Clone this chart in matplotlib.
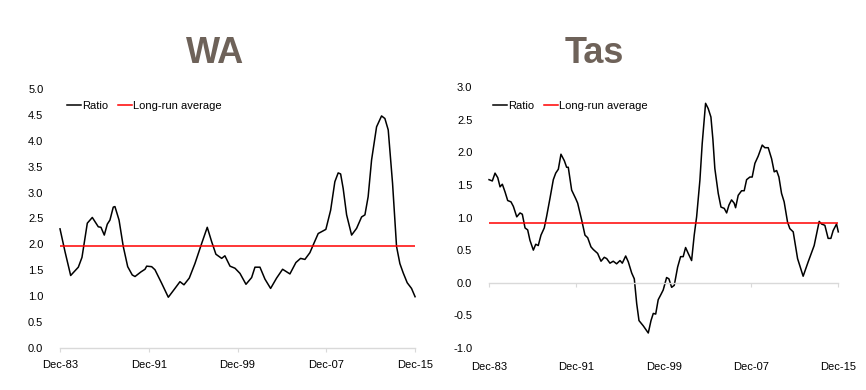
import matplotlib
matplotlib.use("Agg")
import matplotlib.pyplot as plt

# =====================================
# Data
# =====================================

wa_years = [
    1983.92, 1984.37, 1984.88, 1985.57, 1985.9, 1986.38, 1986.83, 1987.37,
    1987.61, 1987.91, 1988.18, 1988.42, 1988.72, 1988.87, 1989.24, 1989.62,
    1990.02, 1990.43, 1990.68, 1991.22, 1991.58, 1991.73, 1992.18, 1992.48,
    1993.08, 1993.68, 1994.28, 1994.73, 1995.09, 1995.57, 1996.08, 1996.69,
    1997.19, 1997.59, 1997.97, 1998.49, 1998.78, 1999.24, 1999.69, 2000.14,
    2000.68, 2001.19, 2001.49, 2001.94, 2002.39, 2002.9, 2003.44, 2003.98,
    2004.64, 2005.18, 2005.6, 2005.99, 2006.44, 2006.74, 2007.19, 2007.88,
    2008.31, 2008.69, 2008.99, 2009.21, 2009.44, 2009.75, 2010.2, 2010.65,
    2011.1, 2011.4, 2011.69, 2012.0, 2012.45, 2012.9, 2013.2, 2013.5,
    2013.89, 2014.25, 2014.55, 2014.85, 2015.21, 2015.6, 2015.92,
]
wa_ratio = [
    2.30, 1.86, 1.40, 1.56, 1.75, 2.41, 2.52, 2.34,
    2.33, 2.18, 2.39, 2.47, 2.72, 2.73, 2.47, 1.96,
    1.57, 1.41, 1.38, 1.47, 1.52, 1.58, 1.57, 1.51,
    1.25, 0.98, 1.15, 1.28, 1.22, 1.35, 1.63, 2.02,
    2.33, 2.05, 1.81, 1.73, 1.78, 1.58, 1.54, 1.44,
    1.23, 1.36, 1.56, 1.56, 1.33, 1.15, 1.35, 1.52,
    1.43, 1.65, 1.73, 1.71, 1.84, 1.99, 2.21, 2.29,
    2.66, 3.21, 3.38, 3.36, 3.08, 2.57, 2.18, 2.31,
    2.53, 2.57, 2.92, 3.63, 4.27, 4.48, 4.43, 4.21,
    3.18, 1.96, 1.63, 1.45, 1.26, 1.15, 0.99,
]
wa_average = 1.97

tas_years = [
    1983.92, 1984.22, 1984.47, 1984.72, 1984.93, 1985.14, 1985.39, 1985.63,
    1985.93, 1986.15, 1986.46, 1986.76, 1986.97, 1987.22, 1987.46, 1987.67,
    1987.98, 1988.2, 1988.43, 1988.68, 1988.98, 1989.2, 1989.5, 1989.81,
    1990.03, 1990.27, 1990.51, 1990.82, 1991.03, 1991.18, 1991.49, 1991.86,
    1992.04, 1992.41, 1992.71, 1992.96, 1993.26, 1993.47, 1993.87, 1994.18,
    1994.48, 1994.7, 1995.0, 1995.3, 1995.61, 1995.92, 1996.13, 1996.44,
    1996.68, 1996.99, 1997.23, 1997.45, 1997.66, 1998.05, 1998.51, 1998.76,
    1998.97, 1999.19, 1999.42, 1999.67, 1999.88, 2000.19, 2000.4, 2000.65,
    2000.89, 2001.2, 2001.47, 2001.71, 2001.93, 2002.17, 2002.48, 2002.72,
    2002.94, 2003.24, 2003.45, 2003.76, 2004.0, 2004.25, 2004.43, 2004.61,
    2004.92, 2005.17, 2005.47, 2005.69, 2005.9, 2006.14, 2006.38, 2006.51,
    2006.75, 2007.06, 2007.3, 2007.52, 2007.82, 2008.03, 2008.28, 2008.58,
    2008.95, 2009.19, 2009.5, 2009.81, 2010.05, 2010.27, 2010.48, 2010.72,
    2010.96, 2011.27, 2011.48, 2011.79, 2012.19, 2012.7, 2013.16, 2013.71,
    2014.17, 2014.39, 2014.69, 2014.99, 2015.24, 2015.45, 2015.76, 2015.92,
]
tas_ratio = [
    1.58, 1.56, 1.68, 1.61, 1.47, 1.51, 1.39, 1.26,
    1.24, 1.17, 1.01, 1.07, 1.05, 0.84, 0.81, 0.65,
    0.50, 0.59, 0.57, 0.73, 0.84, 1.02, 1.29, 1.58,
    1.68, 1.74, 1.97, 1.87, 1.77, 1.77, 1.42, 1.29,
    1.22, 0.96, 0.73, 0.69, 0.55, 0.51, 0.45, 0.33,
    0.39, 0.37, 0.30, 0.33, 0.29, 0.34, 0.30, 0.41,
    0.32, 0.15, 0.06, -0.32, -0.58, -0.66, -0.77, -0.58,
    -0.47, -0.48, -0.26, -0.18, -0.11, 0.08, 0.06, -0.07,
    -0.04, 0.24, 0.40, 0.40, 0.54, 0.45, 0.34, 0.73,
    1.01, 1.57, 2.13, 2.75, 2.67, 2.54, 2.20, 1.75,
    1.37, 1.16, 1.14, 1.07, 1.19, 1.27, 1.22, 1.15,
    1.34, 1.41, 1.41, 1.58, 1.62, 1.62, 1.83, 1.94,
    2.11, 2.07, 2.07, 1.90, 1.70, 1.72, 1.62, 1.37,
    1.24, 0.93, 0.83, 0.78, 0.37, 0.10, 0.32, 0.57,
    0.94, 0.90, 0.88, 0.68, 0.68, 0.80, 0.90, 0.78,
]
tas_average = 0.92

tick_years = [1983.92, 1991.92, 1999.92, 2007.92, 2015.92]
tick_labels = ["Dec-83", "Dec-91", "Dec-99", "Dec-07", "Dec-15"]

wa_yticks = [0.0, 0.5, 1.0, 1.5, 2.0, 2.5, 3.0, 3.5, 4.0, 4.5, 5.0]
tas_yticks = [-1.0, -0.5, 0.0, 0.5, 1.0, 1.5, 2.0, 2.5, 3.0]

# =====================================
# Style
# =====================================

plt.rcParams["font.family"] = ["Liberation Sans", "DejaVu Sans"]
TEXT_SIZE = 8
TITLE_COLOR = "#6e6259"
AXIS_GRAY = "#d9d9d9"
RED = "#ff0000"

fig = plt.figure(figsize=(8.66, 3.9), dpi=100)

ax_wa = fig.add_axes([0.0693, 0.1077, 0.41, 0.6641])
ax_tas = fig.add_axes([0.5647, 0.1077, 0.4033, 0.6692])


def style_axes(ax, yticks):
    for side in ["top", "right", "left"]:
        ax.spines[side].set_visible(False)
    ax.spines["bottom"].set_color(AXIS_GRAY)
    ax.spines["bottom"].set_linewidth(1.0)
    ax.set_xlim(tick_years[0], tick_years[-1])
    ax.set_ylim(yticks[0], yticks[-1])
    ax.set_yticks(yticks)
    ax.set_yticklabels([f"{v:.1f}" for v in yticks])
    ax.set_xticks(tick_years)
    ax.set_xticklabels(tick_labels)
    ax.tick_params(axis="y", length=0, pad=12, labelsize=TEXT_SIZE)
    ax.tick_params(axis="x", length=3, width=0.8, color=AXIS_GRAY,
                   direction="out", pad=6, labelsize=TEXT_SIZE)


def add_legend(ax, x, y):
    ax.legend(
        loc="center left",
        bbox_to_anchor=(x, y),
        ncol=2,
        frameon=False,
        fontsize=TEXT_SIZE,
        handlelength=1.25,
        handletextpad=0.1,
        columnspacing=0.9,
        borderpad=0,
        borderaxespad=0,
    )


# =====================================
# WA
# =====================================

style_axes(ax_wa, wa_yticks)
ax_wa.plot(wa_years, wa_ratio, color="black", linewidth=1.1,
           label="Ratio", clip_on=False)
ax_wa.axhline(wa_average, color=RED, linewidth=1.1, label="Long-run average")
add_legend(ax_wa, 0.02, 0.934)

# =====================================
# Tas (axis line sits at zero, labels at the bottom)
# =====================================

style_axes(ax_tas, tas_yticks)
ax_tas.spines["bottom"].set_position(("data", 0))
ax_tas.tick_params(axis="x", labelbottom=False)
sec = ax_tas.secondary_xaxis("bottom")
sec.spines["bottom"].set_visible(False)
sec.set_xticks(tick_years)
sec.set_xticklabels(tick_labels)
sec.tick_params(axis="x", length=0, pad=10, labelsize=TEXT_SIZE)

ax_tas.plot(tas_years, tas_ratio, color="black", linewidth=1.1,
            label="Ratio", clip_on=False)
ax_tas.axhline(tas_average, color=RED, linewidth=1.1, label="Long-run average")
add_legend(ax_tas, 0.012, 0.927)

# =====================================
# Titles
# =====================================

title_font = ["Liberation Sans Narrow", "Liberation Sans", "DejaVu Sans"]
fig.text(215 / 866, 1 - 62.7 / 390, "WA", ha="center", va="baseline",
         fontsize=26, fontweight="bold", color=TITLE_COLOR, family=title_font)
fig.text(594 / 866, 1 - 62.7 / 390, "Tas", ha="center", va="baseline",
         fontsize=26, fontweight="bold", color=TITLE_COLOR, family=title_font)

fig.savefig("out.png", dpi=100)
plt.close(fig)
